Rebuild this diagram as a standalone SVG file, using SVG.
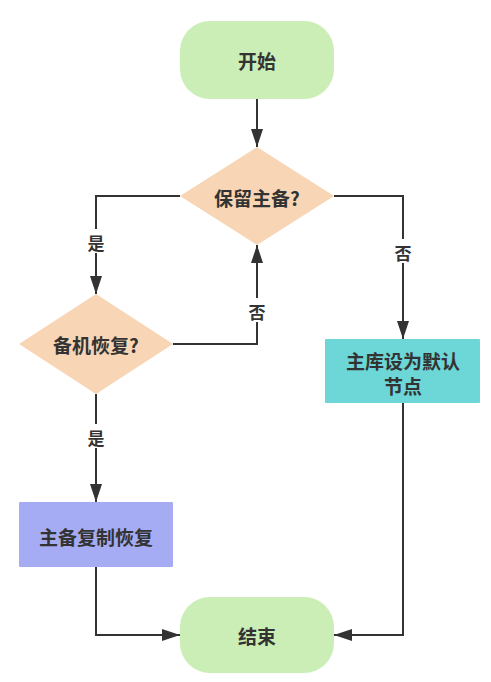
<svg xmlns="http://www.w3.org/2000/svg" width="491" height="682" viewBox="0 0 491 682">
<style>
.t{font-family:"Noto Sans CJK SC","Noto Sans",sans-serif;font-weight:bold;font-size:19px;fill:#333;text-anchor:middle;dominant-baseline:central}
.l{font-family:"Noto Sans CJK SC","Noto Sans",sans-serif;font-weight:bold;font-size:17px;fill:#333;text-anchor:middle;dominant-baseline:central}
.e{fill:none;stroke:#333;stroke-width:2}
.term{fill:#cbeeb6}
.dec{fill:#f8d5b4}
</style>
<defs>
<marker id="a" markerWidth="18" markerHeight="12" refX="18" refY="6" orient="auto" markerUnits="userSpaceOnUse">
<path d="M0,0 L18,6 L0,12 Z" fill="#333"/>
</marker>
</defs>
<rect width="491" height="682" fill="#fff"/>
<g id="edges">
<path class="e" d="M257,99 V147" marker-end="url(#a)"/>
<path class="e" d="M180,196 H96 V294" marker-end="url(#a)"/>
<path class="e" d="M334,196 H403 V339" marker-end="url(#a)"/>
<path class="e" d="M173,344 H257 V245" marker-end="url(#a)"/>
<path class="e" d="M96,394 V502" marker-end="url(#a)"/>
<path class="e" d="M96,567 V635 H180" marker-end="url(#a)"/>
<path class="e" d="M403,403 V635 H334" marker-end="url(#a)"/>
<rect x="86" y="229" width="20" height="24" fill="#fff"/>
<text class="l" x="96" y="242">是</text>
<rect x="393" y="239" width="20" height="24" fill="#fff"/>
<text class="l" x="403" y="252">否</text>
<rect x="247" y="298" width="20" height="24" fill="#fff"/>
<text class="l" x="257" y="311">否</text>
<rect x="86" y="424" width="20" height="24" fill="#fff"/>
<text class="l" x="96" y="437">是</text>
</g>
<g id="start">
<rect class="term" x="180" y="21" width="154" height="78" rx="30" ry="30"/>
<text class="t" x="257" y="60">开始</text>
</g>
<g id="keep">
<polygon class="dec" points="257,147 334,196 257,245 180,196"/>
<text class="t" x="257" y="197">保留主备?</text>
</g>
<g id="recover">
<polygon class="dec" points="96,294 173,344 96,394 19,344"/>
<text class="t" x="96" y="344">备机恢复?</text>
</g>
<g id="setdefault">
<rect x="325" y="339" width="155" height="64" rx="1" fill="#6dd6d6"/>
<text class="t" x="403" y="360">主库设为默认</text>
<text class="t" x="403" y="385">节点</text>
</g>
<g id="replicate">
<rect x="19" y="502" width="154" height="65" rx="1" fill="#a6acf3"/>
<text class="t" x="96" y="536">主备复制恢复</text>
</g>
<g id="end">
<rect class="term" x="180" y="597" width="154" height="76" rx="30" ry="30"/>
<text class="t" x="257" y="635">结束</text>
</g>
</svg>
